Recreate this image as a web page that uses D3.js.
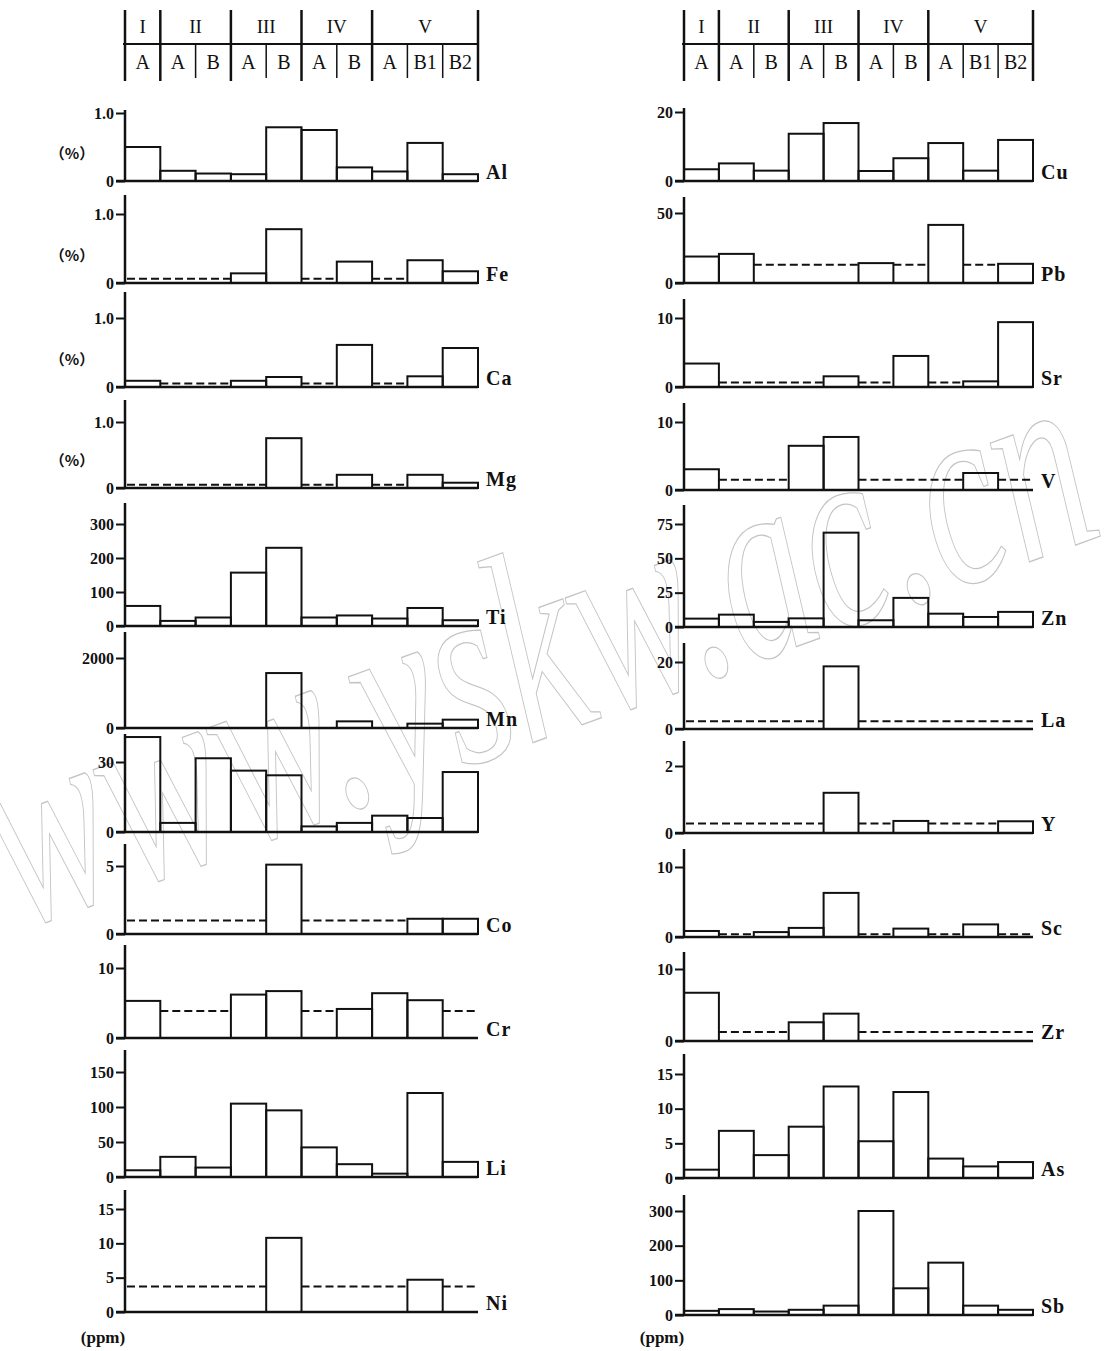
<!DOCTYPE html>
<html>
<head>
<meta charset="utf-8">
<title>Element bars</title>
<script src="https://cdn.jsdelivr.net/npm/d3@7"></script>
<style>
    body { margin: 0; background: #fff; }
    svg text { font-family: "Liberation Serif", "DejaVu Serif", serif; fill: #111; }
</style>
</head>
<body>
<svg width="1105" height="1351" id="mainsvg" style="display:block"></svg>
<script>
    // sample columns (zone - subzone)
    const bands = ['I-A', 'II-A', 'II-B', 'III-A', 'III-B', 'IV-A', 'IV-B', 'V-A', 'V-B1', 'V-B2'];
    const subLabels = ['A', 'A', 'B', 'A', 'B', 'A', 'B', 'A', 'B1', 'B2'];
    const groups = ['I', 'II', 'III', 'IV', 'V'];
    const groupSize = [1, 2, 2, 2, 3];

    // left column, null = below detection (dashed line drawn at the limit)
    const namesLeft = ['Al', 'Fe', 'Ca', 'Mg', 'Ti', 'Mn', '', 'Co', 'Cr', 'Li', 'Ni'];
    const Al = [0.50, 0.15, 0.11, 0.10, 0.79, 0.75, 0.20, 0.14, 0.56, 0.10];
    const Fe = [null, null, null, 0.14, 0.78, null, 0.31, null, 0.33, 0.17];
    const Ca = [0.09, null, null, 0.09, 0.145, null, 0.61, null, 0.155, 0.565];
    const Mg = [null, null, null, null, 0.755, null, 0.20, null, 0.20, 0.08];
    const Ti = [59, 15, 25, 157, 230, 25, 31, 22, 53, 17];
    const Mn = [null, null, null, null, 1570, null, 190, null, 124, 238];
    const unnamed = [40.7, 3.9, 31.6, 26.3, 24.3, 2.4, 3.9, 7.0, 6.0, 25.7];
    const Co = [null, null, null, null, 5.1, null, null, null, 1.12, 1.12];
    const Cr = [5.3, null, null, 6.2, 6.7, null, 4.15, 6.4, 5.4, null];
    const Li = [9.6, 28.8, 13.5, 104.8, 95.2, 42.3, 18.3, 4.8, 120, 21.6];
    const Ni = [null, null, null, null, 10.8, null, null, null, 4.7, null];
    const limitsLeft = [null, 0.06, 0.05, 0.05, null, null, null, 1.0, 3.85, null, 3.7];
    const ticksLeft = [[0, 1], [0, 1], [0, 1], [0, 1], [0, 100, 200, 300], [0, 2000], [0, 30], [0, 5], [0, 10], [0, 50, 100, 150], [0, 5, 10, 15]];
    const percentLeft = [true, true, true, true, false, false, false, false, false, false, false];

    // right column
    const namesRight = ['Cu', 'Pb', 'Sr', 'V', 'Zn', 'La', 'Y', 'Sc', 'Zr', 'As', 'Sb'];
    const Cu = [3.4, 5.1, 3.0, 13.7, 16.8, 2.9, 6.6, 11.0, 3.0, 11.9];
    const Pb = [18.9, 20.8, null, null, null, 14.2, null, 41.5, null, 13.7];
    const Sr = [3.4, null, null, null, 1.55, null, 4.5, null, 0.82, 9.4];
    const V = [3.05, null, null, 6.5, 7.8, null, null, null, 2.5, null];
    const Zn = [6.1, 9.0, 3.7, 6.3, 68.7, 4.9, 21.2, 9.7, 7.3, 11.0];
    const La = [null, null, null, null, 18.7, null, null, null, null, null];
    const Y = [null, null, null, null, 1.2, null, 0.36, null, null, 0.35];
    const Sc = [0.86, null, 0.7, 1.3, 6.3, null, 1.2, null, 1.8, null];
    const Zr = [6.7, null, null, 2.6, 3.8, null, null, null, null, null];
    const As = [1.2, 6.8, 3.3, 7.4, 13.2, 5.3, 12.4, 2.8, 1.67, 2.3];
    const Sb = [12, 17, 10, 15, 27, 300, 77, 151, 27, 15];
    const limitsRight = [null, 13, 0.65, 1.5, null, 2.3, 0.28, 0.4, 1.25, null, null];
    const ticksRight = [[0, 20], [0, 50], [0, 10], [0, 10], [0, 25, 50, 75], [0, 20], [0, 2], [0, 10], [0, 10], [0, 5, 10, 15], [0, 100, 200, 300]];

    // layout: baseline y, y of the top tick, top of the vertical axis
    const layoutLeft = [
        [181, 113, 110], [283, 214, 195], [387, 318, 292], [488, 422, 400],
        [626, 524, 503], [728, 658, 632], [832, 762, 734], [934, 866, 844],
        [1038, 968, 945], [1177, 1072, 1050], [1312, 1209, 1190]];
    const layoutRight = [
        [181, 112, 108], [283, 213, 197], [387, 318, 299], [490, 422, 403],
        [627, 524, 505], [729, 662, 643], [833, 766, 741], [937, 867, 849],
        [1041, 969, 952], [1178, 1074, 1054], [1315, 1211, 1195]];

    const svg = d3.select('#mainsvg');
    const stroke = '#111';

    const columns = [
        { x0: 125, x1: 478, names: namesLeft, values: [Al, Fe, Ca, Mg, Ti, Mn, unnamed, Co, Cr, Li, Ni],
          limits: limitsLeft, ticks: ticksLeft, layout: layoutLeft, percent: percentLeft },
        { x0: 684, x1: 1033, names: namesRight, values: [Cu, Pb, Sr, V, Zn, La, Y, Sc, Zr, As, Sb],
          limits: limitsRight, ticks: ticksRight, layout: layoutRight, percent: namesRight.map(() => false) }
    ];

    // watermark sits behind the marks' outlines
    const wm = svg.append('g');

    const drawHeader = function (col) {
        const x = d3.scaleBand().domain(bands).range([col.x0, col.x1]);
        const g = svg.append('g').attr('class', 'header');
        const yTop = 10, yMid = 44, yBot = 81;

        g.append('line').attr('x1', col.x0 - 2).attr('x2', col.x1)
            .attr('y1', yMid).attr('y2', yMid)
            .attr('stroke', stroke).attr('stroke-width', 2);

        // group edges
        const starts = [];
        let k = 0;
        groupSize.forEach(n => { starts.push(k); k += n; });
        const edges = starts.map(s => x(bands[s])).concat([col.x1]);
        g.selectAll('.gline').data(edges).join('line')
            .attr('x1', d => d).attr('x2', d => d)
            .attr('y1', yTop).attr('y2', yBot)
            .attr('stroke', stroke).attr('stroke-width', 2.5);

        g.selectAll('.gtext').data(groups).join('text')
            .attr('x', (d, i) => (edges[i] + edges[i + 1]) / 2)
            .attr('y', 33)
            .attr('text-anchor', 'middle')
            .attr('font-size', 19)
            .text(d => d);

        // sub dividers inside groups
        const inner = bands.filter((b, i) => !starts.includes(i));
        g.selectAll('.sline').data(inner).join('line')
            .attr('x1', d => x(d)).attr('x2', d => x(d))
            .attr('y1', yMid).attr('y2', yBot - 3)
            .attr('stroke', stroke).attr('stroke-width', 1.5);

        g.selectAll('.stext').data(bands).join('text')
            .attr('x', d => x(d) + x.bandwidth() / 2)
            .attr('y', 69)
            .attr('text-anchor', 'middle')
            .attr('font-size', 20)
            .text((d, i) => subLabels[i]);
    };

    const drawPanel = function (col, i) {
        const [base, tickY, axisTop] = col.layout[i];
        const ticks = col.ticks[i];
        const data = col.values[i];
        const limit = col.limits[i];
        const x = d3.scaleBand().domain(bands).range([col.x0, col.x1]);
        const y = d3.scaleLinear().domain([0, ticks[ticks.length - 1]]).range([base, tickY]);
        const g = svg.append('g').attr('class', 'panel');

        // bars
        const rows = bands.map((b, j) => ({ band: b, value: data[j] }));
        g.selectAll('rect').data(rows.filter(d => d.value !== null)).join('rect')
            .attr('x', d => x(d.band))
            .attr('y', d => y(d.value))
            .attr('width', x.bandwidth())
            .attr('height', d => base - y(d.value))
            .attr('fill', 'none')
            .attr('stroke', stroke)
            .attr('stroke-width', 2);

        // dashed detection limit over the empty runs
        if (limit !== null) {
            const runs = [];
            rows.forEach((d, j) => {
                if (d.value !== null) return;
                const last = runs[runs.length - 1];
                if (last && last.end === j - 1) last.end = j;
                else runs.push({ start: j, end: j });
            });
            g.selectAll('.limit').data(runs).join('line')
                .attr('x1', d => x(bands[d.start]) + (d.start === 0 ? 2 : 0))
                .attr('x2', d => x(bands[d.end]) + x.bandwidth())
                .attr('y1', y(limit)).attr('y2', y(limit))
                .attr('stroke', stroke)
                .attr('stroke-width', 2)
                .attr('stroke-dasharray', '8,4');
        }

        // y axis
        const pct = col.percent[i];
        const axis = d3.axisLeft(y).tickValues(ticks).tickSize(9).tickPadding(2)
            .tickFormat(d => pct && d !== 0 ? d3.format('.1f')(d) : d3.format('d')(d));
        const ag = g.append('g').attr('transform', `translate(${col.x0},0)`).call(axis);
        ag.select('.domain').remove();
        ag.selectAll('line').attr('stroke', stroke).attr('stroke-width', 2);
        ag.selectAll('text')
            .attr('font-size', 16)
            .attr('font-weight', 'bold')
            .attr('font-family', '"Liberation Serif", serif')
            .attr('fill', '#111');

        g.append('line').attr('x1', col.x0).attr('x2', col.x0)
            .attr('y1', axisTop).attr('y2', base + 1)
            .attr('stroke', stroke).attr('stroke-width', 2.5);
        g.append('line').attr('x1', col.x0 - 9).attr('x2', col.x1)
            .attr('y1', base).attr('y2', base)
            .attr('stroke', stroke).attr('stroke-width', 2.5);

        if (col.names[i]) {
            g.append('text')
                .attr('x', col.x1 + 8)
                .attr('y', base - 2)
                .attr('font-size', 20)
                .attr('font-weight', 'bold')
                .attr('letter-spacing', 1)
                .text(col.names[i]);
        }
        if (pct) {
            g.append('text')
                .attr('x', 72)
                .attr('y', base - 22)
                .attr('text-anchor', 'middle')
                .attr('font-size', 15)
                .attr('font-weight', 'bold')
                .style('font-family', '"Noto Sans CJK SC", sans-serif')
                .text('（%）');
        }
    };

    columns.forEach(col => {
        drawHeader(col);
        col.names.forEach((n, i) => drawPanel(col, i));
        svg.append('text')
            .attr('x', col.x0 - 22)
            .attr('y', 1343)
            .attr('text-anchor', 'middle')
            .attr('font-size', 17)
            .attr('font-weight', 'bold')
            .text('(ppm)');
    });

    // watermark
    wm.append('text')
        .attr('transform', 'translate(18,930) rotate(-20) scale(1,1.6)')
        .attr('font-size', 170)
        .attr('font-style', 'italic')
        .attr('textLength', 1160)
        .attr('lengthAdjust', 'spacingAndGlyphs')
        .style('fill', 'none')
        .style('stroke', '#c4c4c4')
        .style('stroke-width', 1.1)
        .style('vector-effect', 'non-scaling-stroke')
        .text('www.yskw.ac.cn');
</script>
</body>
</html>
